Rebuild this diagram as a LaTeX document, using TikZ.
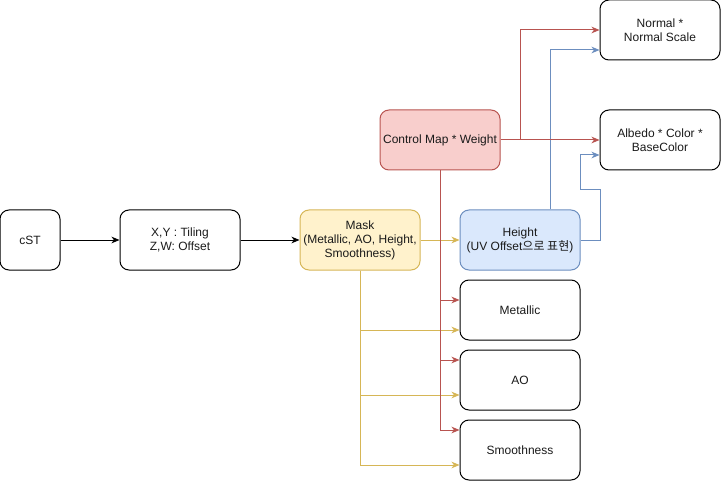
\documentclass[tikz,border=0pt]{standalone}
\usepackage{fontspec}
\setmainfont{Liberation Sans}
\newfontfamily\krfont{Noto Sans CJK KR}
\usetikzlibrary{arrows.meta,calc}
\definecolor{redS}{HTML}{B85450}
\definecolor{redF}{HTML}{F8CECC}
\definecolor{yelS}{HTML}{D6B656}
\definecolor{yelF}{HTML}{FFF2CC}
\definecolor{bluS}{HTML}{6C8EBF}
\definecolor{bluF}{HTML}{DAE8FC}
\definecolor{txt}{HTML}{1A1A1A}
\tikzset{
  box/.style={draw=black, line width=0.75pt, rounded corners=6.75pt, minimum width=90pt, minimum height=45pt,
    inner sep=1pt, align=center, font=\fontsize{9pt}{10.5pt}\selectfont, text=txt},
  redbox/.style={box, draw=redS, fill=redF},
  yelbox/.style={box, draw=yelS, fill=yelF},
  blubox/.style={box, draw=bluS, fill=bluF},
  conn/.style={line width=0.75pt, -{Stealth[length=6pt,width=5pt,inset=1.8pt]}},
  blk/.style={conn, draw=black, fill=black},
  redc/.style={conn, draw=redS},
  yelc/.style={conn, draw=yelS},
  bluc/.style={conn, draw=bluS},
}
\begin{document}
\begin{tikzpicture}[x=0.75pt, y=-0.75pt]
\useasboundingbox (0,0) rectangle (721,481);
\node[box] (cst) at (30,240) [minimum width=45pt] {cST};
\node[box] (xy) at (180,240) {X,Y : Tiling\\Z,W: Offset};
\node[yelbox] (mk) at (360,240) {Mask\\(Metallic, AO, Height,\\Smoothness)};
\node[blubox] (ht) at (520,240) {Height\\(UV Offset{\krfont 으로 표현})};
\node[redbox] (cm) at (440,140) {Control Map * Weight};
\node[box] (nm) at (660,30) {Normal *\\Normal Scale};
\node[box] (al) at (660,140) {Albedo * Color *\\BaseColor};
\node[box] (mt) at (520,310) {Metallic};
\node[box] (ao) at (520,380) {AO};
\node[box] (sm) at (520,450) {Smoothness};

\draw[blk] (cst) -- (xy);
\draw[blk] (xy) -- (mk);
\draw[yelc] (mk) -- (ht);
\draw[yelc] (mk.south) |- ($(mt.west)+(0,20)$);
\draw[yelc] (mk.south) |- ($(ao.west)+(0,15)$);
\draw[yelc] (mk.south) |- ($(sm.west)+(0,15)$);

\draw[bluc] ($(ht.north)+(30,0)$) |- ($(nm.west)+(0,20)$);
\draw[bluc] (ht.east) -- ++(20,0) -- ++(0,-50) -- ++(-20,0) |- ($(al.west)+(0,15)$);

\draw[redc] (cm.east) -- ++(20,0) |- (nm.west);
\draw[redc] (cm.east) -- (al.west);
\draw[redc] (cm.south) |- ($(mt.west)+(0,-10)$);
\draw[redc] (cm.south) |- ($(ao.west)+(0,-20)$);
\draw[redc] (cm.south) |- ($(sm.west)+(0,-20)$);
\end{tikzpicture}
\end{document}
